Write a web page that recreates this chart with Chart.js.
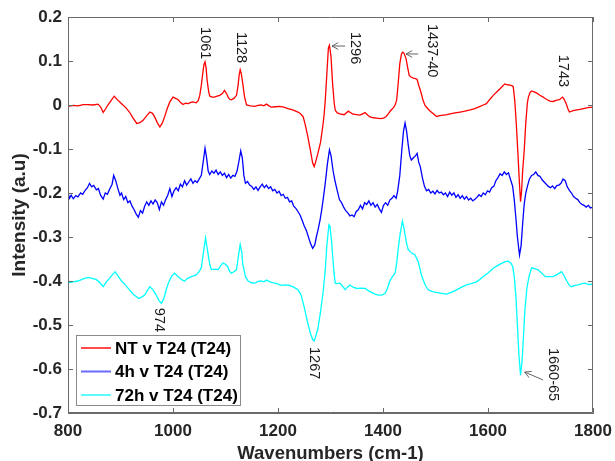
<!DOCTYPE html>
<html><head><meta charset="utf-8">
<script src="https://cdn.jsdelivr.net/npm/chart.js@4/dist/chart.umd.min.js"></script>
<style>html,body{margin:0;padding:0;background:#fff}</style>
</head><body>
<canvas id="c" width="615" height="461"></canvas>
<script>
// ---- data (wavenumber, intensity) ----
const seriesNames = ['NT v T24 (T24)', '4h v T24 (T24)', '72h v T24 (T24)'];
const xTickValues = [800, 1000, 1200, 1400, 1600, 1800];
const yTickValues = [0.2, 0.1, 0, -0.1, -0.2, -0.3, -0.4, -0.5, -0.6, -0.7];

const ntSpectrum = [[800,-0.003],[810,-0.001],[819,-0.002],[829,0.001],[838,0.001],[848,0.0],[857,0.002],[862,-0.004],[867,-0.017],[872,-0.008],[876,0.0],[882,0.010],[888,0.020],[895,0.011],[902,0.003],[910,-0.006],[917,-0.016],[924,-0.030],[931,-0.042],[937,-0.040],[943,-0.035],[950,-0.024],[956,-0.016],[961,-0.019],[965,-0.027],[970,-0.040],[975,-0.050],[980,-0.040],[984,-0.027],[989,-0.008],[994,0.007],[1000,0.018],[1005,0.015],[1010,0.012],[1015,0.005],[1019,0.001],[1024,0.004],[1029,0.003],[1034,0.006],[1038,0.007],[1044,0.005],[1048,0.010],[1051,0.022],[1054,0.045],[1057,0.075],[1059,0.092],[1061,0.098],[1063,0.085],[1065,0.056],[1068,0.030],[1070,0.020],[1075,0.018],[1079,0.018],[1084,0.020],[1089,0.022],[1094,0.026],[1098,0.033],[1102,0.026],[1105,0.018],[1108,0.013],[1111,0.012],[1116,0.015],[1121,0.022],[1124,0.045],[1126,0.068],[1128,0.080],[1130,0.072],[1133,0.048],[1136,0.020],[1140,0.000],[1148,-0.002],[1156,-0.003],[1162,-0.001],[1168,0.000],[1173,-0.002],[1178,0.002],[1183,-0.002],[1187,-0.005],[1195,-0.004],[1203,-0.003],[1211,-0.005],[1219,-0.008],[1228,-0.011],[1238,-0.016],[1243,-0.020],[1248,-0.027],[1252,-0.045],[1257,-0.073],[1262,-0.105],[1266,-0.132],[1269,-0.140],[1272,-0.128],[1276,-0.110],[1281,-0.085],[1286,-0.042],[1288,-0.020],[1290,0.010],[1293,0.070],[1296,0.130],[1298,0.136],[1301,0.110],[1304,0.048],[1307,0.005],[1309,-0.012],[1313,-0.018],[1318,-0.020],[1326,-0.022],[1334,-0.014],[1339,-0.018],[1343,-0.021],[1350,-0.022],[1356,-0.023],[1361,-0.020],[1366,-0.017],[1370,-0.022],[1375,-0.027],[1382,-0.029],[1388,-0.030],[1395,-0.031],[1401,-0.030],[1406,-0.026],[1410,-0.020],[1415,-0.012],[1420,-0.006],[1423,0.000],[1426,0.011],[1429,0.050],[1432,0.094],[1435,0.115],[1437,0.120],[1440,0.118],[1444,0.105],[1447,0.085],[1450,0.067],[1454,0.063],[1458,0.061],[1462,0.060],[1465,0.058],[1468,0.045],[1472,0.030],[1476,0.012],[1480,-0.001],[1485,-0.008],[1490,-0.014],[1496,-0.020],[1502,-0.026],[1508,-0.024],[1515,-0.023],[1522,-0.022],[1528,-0.020],[1537,-0.018],[1547,-0.016],[1556,-0.014],[1566,-0.011],[1575,-0.008],[1585,-0.003],[1591,0.000],[1597,0.003],[1603,0.012],[1610,0.022],[1617,0.030],[1623,0.037],[1628,0.043],[1632,0.048],[1637,0.046],[1642,0.045],[1645,0.044],[1648,0.042],[1651,0.010],[1654,-0.045],[1657,-0.110],[1660,-0.180],[1662,-0.220],[1664,-0.195],[1666,-0.150],[1669,-0.103],[1672,-0.040],[1675,0.005],[1677,0.018],[1680,0.028],[1683,0.032],[1688,0.030],[1693,0.027],[1699,0.022],[1705,0.018],[1711,0.013],[1718,0.009],[1724,0.008],[1731,0.011],[1736,0.012],[1742,0.018],[1745,0.013],[1749,0.003],[1752,-0.008],[1755,-0.016],[1762,-0.013],[1769,-0.011],[1775,-0.010],[1782,-0.008],[1790,-0.006],[1800,-0.005]];

const h4Spectrum = [[800,-0.200],[803,-0.212],[806,-0.205],[810,-0.213],[815,-0.206],[819,-0.209],[824,-0.200],[828,-0.203],[832,-0.195],[837,-0.188],[841,-0.178],[845,-0.186],[849,-0.183],[854,-0.193],[858,-0.190],[862,-0.205],[867,-0.214],[871,-0.200],[875,-0.203],[879,-0.192],[884,-0.180],[887,-0.160],[891,-0.172],[895,-0.190],[899,-0.205],[902,-0.200],[906,-0.215],[910,-0.208],[914,-0.222],[918,-0.218],[922,-0.230],[926,-0.238],[930,-0.248],[934,-0.255],[938,-0.240],[942,-0.246],[946,-0.230],[950,-0.220],[954,-0.228],[958,-0.218],[962,-0.225],[966,-0.216],[970,-0.222],[974,-0.238],[978,-0.220],[982,-0.228],[986,-0.215],[990,-0.205],[994,-0.190],[998,-0.208],[1002,-0.195],[1006,-0.188],[1010,-0.195],[1014,-0.180],[1018,-0.186],[1022,-0.172],[1026,-0.182],[1030,-0.175],[1034,-0.168],[1038,-0.178],[1042,-0.172],[1046,-0.176],[1050,-0.168],[1054,-0.160],[1058,-0.125],[1061,-0.098],[1064,-0.120],[1067,-0.150],[1070,-0.158],[1074,-0.150],[1078,-0.155],[1082,-0.148],[1086,-0.158],[1090,-0.152],[1094,-0.160],[1098,-0.155],[1102,-0.165],[1106,-0.158],[1110,-0.166],[1114,-0.160],[1118,-0.162],[1122,-0.150],[1126,-0.125],[1129,-0.104],[1132,-0.120],[1135,-0.160],[1138,-0.178],[1142,-0.174],[1146,-0.182],[1150,-0.185],[1154,-0.192],[1158,-0.186],[1162,-0.194],[1166,-0.186],[1170,-0.180],[1174,-0.188],[1178,-0.182],[1182,-0.190],[1186,-0.186],[1190,-0.195],[1194,-0.192],[1198,-0.200],[1202,-0.196],[1206,-0.206],[1210,-0.203],[1214,-0.212],[1218,-0.210],[1222,-0.220],[1226,-0.218],[1230,-0.230],[1234,-0.235],[1238,-0.242],[1242,-0.250],[1246,-0.262],[1250,-0.275],[1254,-0.285],[1258,-0.300],[1262,-0.315],[1266,-0.326],[1270,-0.318],[1273,-0.300],[1276,-0.285],[1280,-0.262],[1283,-0.240],[1286,-0.215],[1290,-0.178],[1294,-0.135],[1298,-0.102],[1301,-0.115],[1305,-0.150],[1309,-0.175],[1313,-0.195],[1317,-0.215],[1321,-0.222],[1325,-0.232],[1329,-0.240],[1333,-0.245],[1337,-0.252],[1341,-0.250],[1345,-0.254],[1349,-0.242],[1353,-0.238],[1357,-0.228],[1361,-0.236],[1365,-0.222],[1369,-0.226],[1373,-0.218],[1377,-0.228],[1381,-0.222],[1385,-0.232],[1389,-0.226],[1393,-0.236],[1397,-0.244],[1401,-0.228],[1405,-0.222],[1409,-0.228],[1413,-0.216],[1417,-0.212],[1421,-0.206],[1425,-0.212],[1428,-0.195],[1432,-0.160],[1436,-0.100],[1439,-0.060],[1442,-0.041],[1445,-0.060],[1448,-0.090],[1451,-0.115],[1454,-0.125],[1458,-0.120],[1462,-0.115],[1465,-0.110],[1468,-0.130],[1471,-0.140],[1475,-0.165],[1479,-0.185],[1483,-0.195],[1487,-0.192],[1491,-0.200],[1495,-0.196],[1499,-0.202],[1503,-0.194],[1507,-0.200],[1511,-0.198],[1515,-0.204],[1519,-0.200],[1523,-0.208],[1527,-0.198],[1531,-0.205],[1535,-0.200],[1539,-0.210],[1543,-0.204],[1547,-0.212],[1551,-0.206],[1555,-0.214],[1559,-0.208],[1563,-0.216],[1567,-0.212],[1571,-0.218],[1575,-0.214],[1579,-0.210],[1583,-0.204],[1587,-0.208],[1591,-0.200],[1595,-0.204],[1599,-0.195],[1603,-0.198],[1607,-0.188],[1611,-0.185],[1615,-0.172],[1619,-0.165],[1623,-0.156],[1627,-0.160],[1631,-0.152],[1635,-0.158],[1639,-0.154],[1643,-0.170],[1647,-0.185],[1650,-0.215],[1653,-0.255],[1656,-0.300],[1660,-0.341],[1663,-0.320],[1666,-0.270],[1669,-0.225],[1672,-0.200],[1675,-0.185],[1679,-0.168],[1683,-0.160],[1687,-0.158],[1691,-0.152],[1695,-0.160],[1699,-0.162],[1703,-0.170],[1707,-0.175],[1711,-0.180],[1715,-0.185],[1719,-0.188],[1723,-0.184],[1727,-0.190],[1731,-0.183],[1735,-0.182],[1739,-0.178],[1743,-0.168],[1747,-0.172],[1751,-0.186],[1755,-0.194],[1759,-0.200],[1763,-0.208],[1767,-0.212],[1771,-0.215],[1775,-0.222],[1779,-0.226],[1783,-0.228],[1787,-0.232],[1791,-0.228],[1795,-0.234],[1800,-0.232]];

const h72Spectrum = [[800,-0.404],[810,-0.402],[819,-0.400],[829,-0.395],[838,-0.392],[846,-0.394],[854,-0.397],[861,-0.404],[867,-0.413],[873,-0.402],[879,-0.394],[885,-0.385],[890,-0.379],[896,-0.390],[902,-0.400],[910,-0.410],[917,-0.420],[926,-0.432],[935,-0.440],[941,-0.436],[946,-0.432],[951,-0.422],[956,-0.413],[962,-0.420],[968,-0.432],[974,-0.446],[978,-0.451],[983,-0.438],[987,-0.420],[992,-0.402],[997,-0.390],[1003,-0.382],[1008,-0.388],[1013,-0.394],[1018,-0.398],[1022,-0.400],[1028,-0.394],[1035,-0.390],[1040,-0.388],[1044,-0.386],[1049,-0.380],[1054,-0.370],[1058,-0.335],[1062,-0.302],[1065,-0.325],[1067,-0.340],[1070,-0.362],[1073,-0.374],[1080,-0.373],[1086,-0.374],[1091,-0.365],[1095,-0.359],[1100,-0.362],[1104,-0.367],[1108,-0.378],[1111,-0.382],[1116,-0.379],[1121,-0.374],[1125,-0.340],[1128,-0.317],[1131,-0.335],[1133,-0.363],[1138,-0.390],[1143,-0.400],[1150,-0.404],[1156,-0.405],[1162,-0.401],[1168,-0.400],[1173,-0.402],[1178,-0.398],[1185,-0.402],[1191,-0.404],[1198,-0.406],[1206,-0.410],[1214,-0.409],[1222,-0.410],[1230,-0.414],[1238,-0.420],[1244,-0.432],[1250,-0.460],[1256,-0.492],[1262,-0.520],[1266,-0.533],[1269,-0.536],[1272,-0.525],[1276,-0.508],[1281,-0.470],[1286,-0.425],[1290,-0.375],[1293,-0.320],[1297,-0.272],[1299,-0.275],[1302,-0.310],[1304,-0.341],[1307,-0.385],[1309,-0.405],[1313,-0.406],[1318,-0.405],[1323,-0.412],[1328,-0.420],[1332,-0.414],[1337,-0.409],[1343,-0.414],[1350,-0.417],[1358,-0.416],[1366,-0.417],[1372,-0.422],[1378,-0.426],[1385,-0.430],[1391,-0.432],[1398,-0.432],[1404,-0.428],[1408,-0.418],[1413,-0.400],[1418,-0.390],[1423,-0.382],[1426,-0.360],[1429,-0.326],[1433,-0.290],[1437,-0.264],[1440,-0.280],[1442,-0.295],[1445,-0.315],[1448,-0.329],[1454,-0.336],[1461,-0.341],[1467,-0.356],[1471,-0.375],[1474,-0.390],[1480,-0.408],[1486,-0.420],[1494,-0.424],[1502,-0.426],[1511,-0.428],[1521,-0.430],[1530,-0.426],[1540,-0.420],[1550,-0.414],[1559,-0.409],[1568,-0.406],[1578,-0.402],[1585,-0.396],[1591,-0.390],[1600,-0.382],[1610,-0.371],[1618,-0.365],[1626,-0.360],[1633,-0.356],[1639,-0.355],[1644,-0.360],[1647,-0.367],[1650,-0.390],[1653,-0.432],[1656,-0.500],[1659,-0.570],[1662,-0.614],[1665,-0.580],[1667,-0.538],[1670,-0.470],[1674,-0.417],[1678,-0.390],[1683,-0.370],[1689,-0.372],[1696,-0.375],[1702,-0.382],[1709,-0.390],[1716,-0.390],[1724,-0.390],[1732,-0.385],[1740,-0.379],[1745,-0.388],[1750,-0.400],[1755,-0.410],[1759,-0.413],[1766,-0.410],[1772,-0.409],[1779,-0.406],[1785,-0.405],[1792,-0.408],[1800,-0.407]];

// peak annotations (text anchor in data units; text runs downward from anchor)
const peakText  = ['1061', '1128', '1296', '1437-40', '1743', '974', '1267', '1660-65'];
const peakTextX = [1061, 1130, 1347, 1493, 1743, 973, 1269, 1724];
const peakTextY = [0.177, 0.166, 0.166, 0.184, 0.114, -0.461, -0.550, -0.552];
// arrows: tail -> head (data units)
const arrowTailX = [1328, 1467, 1705];
const arrowTailY = [0.134, 0.116, -0.625];
const arrowHeadX = [1303, 1444, 1670];
const arrowHeadY = [0.134, 0.116, -0.607];

const FONT = "'Liberation Sans', Arial, sans-serif";
const seriesColors = ['#ff0000', '#0000ff', '#00ffff'];
const legendColors = ['#ff4a4a', '#6a6aff', '#5cfcfc'];
const AXIS_COLOR = '#6a6a6a';

const toPts = arr => arr.map(p => ({x: p[0], y: p[1]}));

const framePlugin = {
  id: 'frame',
  afterDraw(chart) {
    const ctx = chart.ctx;
    const xs = chart.scales.x, ys = chart.scales.y;
    const L = xs.left, R = xs.right, T = ys.top, B = ys.bottom;
    ctx.save();
    ctx.strokeStyle = AXIS_COLOR; ctx.lineWidth = 1;
    ctx.beginPath();
    ctx.rect(L + 0.5, T + 0.5, R - L - 1, B - T - 1);
    const tl = 5;
    xTickValues.forEach(v => {
      const px = Math.round(xs.getPixelForValue(v)) + 0.5;
      ctx.moveTo(px, B); ctx.lineTo(px, B - tl);
      ctx.moveTo(px, T); ctx.lineTo(px, T + tl);
    });
    yTickValues.forEach(v => {
      const py = Math.round(ys.getPixelForValue(v)) + 0.5;
      ctx.moveTo(L, py); ctx.lineTo(L + tl, py);
      ctx.moveTo(R, py); ctx.lineTo(R - tl, py);
    });
    ctx.stroke();
    // peak labels
    ctx.fillStyle = '#1a1a1a';
    ctx.font = '14.5px ' + FONT;
    ctx.textAlign = 'left'; ctx.textBaseline = 'middle';
    peakText.forEach((t, i) => {
      ctx.save();
      ctx.translate(xs.getPixelForValue(peakTextX[i]), ys.getPixelForValue(peakTextY[i]));
      ctx.rotate(Math.PI / 2);
      ctx.fillText(t, 0, 0);
      ctx.restore();
    });
    // arrows
    ctx.strokeStyle = '#555'; ctx.lineWidth = 0.9;
    arrowTailX.forEach((_, i) => {
      const x0 = xs.getPixelForValue(arrowTailX[i]), y0 = ys.getPixelForValue(arrowTailY[i]);
      const x1 = xs.getPixelForValue(arrowHeadX[i]), y1 = ys.getPixelForValue(arrowHeadY[i]);
      const ang = Math.atan2(y1 - y0, x1 - x0), hl = 7, hw = 0.5;
      ctx.beginPath();
      ctx.moveTo(x0, y0); ctx.lineTo(x1, y1);
      ctx.moveTo(x1 - hl * Math.cos(ang - hw), y1 - hl * Math.sin(ang - hw));
      ctx.lineTo(x1, y1);
      ctx.lineTo(x1 - hl * Math.cos(ang + hw), y1 - hl * Math.sin(ang + hw));
      ctx.stroke();
    });
    // legend
    const lx = 76, ly = 335, lw = 164, lh = 70;
    ctx.fillStyle = '#fff';
    ctx.fillRect(lx, ly, lw, lh);
    ctx.strokeStyle = '#8a8a8a'; ctx.lineWidth = 1;
    ctx.strokeRect(lx + 0.5, ly + 0.5, lw, lh);
    ctx.font = 'bold 17px ' + FONT;
    ctx.textBaseline = 'middle'; ctx.textAlign = 'left';
    seriesNames.forEach((n, i) => {
      const yy = ly + 13 + i * 23.5;
      ctx.strokeStyle = legendColors[i]; ctx.lineWidth = 2;
      ctx.beginPath(); ctx.moveTo(lx + 5, yy); ctx.lineTo(lx + 35, yy); ctx.stroke();
      ctx.fillStyle = '#000';
      ctx.fillText(n, lx + 39, yy + 1);
    });
    ctx.restore();
  }
};

const tickFont = {family: FONT, size: 17, weight: 'bold'};
new Chart(document.getElementById('c'), {
  type: 'line',
  data: {
    datasets: [ntSpectrum, h4Spectrum, h72Spectrum].map((s, i) => ({
      label: seriesNames[i], data: toPts(s), borderColor: seriesColors[i],
      borderWidth: 1.3, pointRadius: 0, tension: 0, fill: false
    }))
  },
  options: {
    responsive: false, animation: false, devicePixelRatio: 1,
    layout: {padding: {top: 17, right: 22, left: 0, bottom: 0}},
    plugins: {legend: {display: false}, tooltip: {enabled: false}},
    scales: {
      x: {
        type: 'linear', min: 800, max: 1800,
        afterBuildTicks: s => { s.ticks = xTickValues.map(v => ({value: v})); },
        afterFit: s => { s.height = 48; s.paddingLeft = 0; s.paddingRight = 0; },
        grid: {display: false, drawTicks: false},
        border: {display: true, color: AXIS_COLOR, width: 1},
        ticks: {padding: 8, color: '#262626', font: tickFont, maxRotation: 0, autoSkip: false,
                callback: v => String(v)},
        title: {display: true, text: 'Wavenumbers (cm-1)', color: '#262626',
                font: {family: FONT, size: 18.5, weight: 'bold', lineHeight: 0.8}, padding: 0}
      },
      y: {
        type: 'linear', min: -0.7, max: 0.2,
        afterBuildTicks: s => { s.ticks = yTickValues.map(v => ({value: v})); },
        afterFit: s => { s.width = 68; s.paddingTop = 0; s.paddingBottom = 0; },
        grid: {display: false, drawTicks: false},
        border: {display: true, color: AXIS_COLOR, width: 1},
        ticks: {padding: 6, color: '#262626', font: tickFont, autoSkip: false,
                callback: v => String(Math.round(v * 10) / 10)},
        title: {display: true, text: 'Intensity (a.u)', color: '#262626',
                font: {family: FONT, size: 19, weight: 'bold'}, padding: {top: 8, bottom: 0}}
      }
    }
  },
  plugins: [framePlugin]
});
</script>
</body></html>
